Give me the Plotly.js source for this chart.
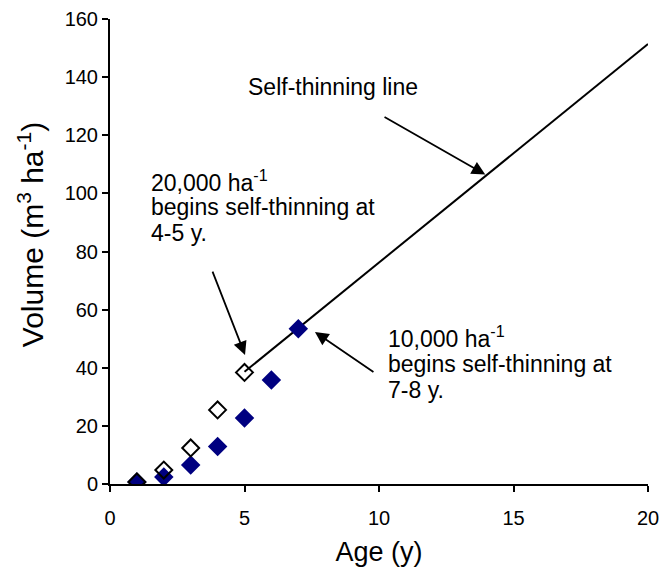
<!DOCTYPE html>
<html>
<head>
<meta charset="utf-8">
<script src="https://cdn.plot.ly/plotly-3.0.1.min.js"></script>
<style>html,body{margin:0;padding:0;background:#fff;}#chart{width:665px;height:574px;}</style>
</head>
<body>
<div id="chart"></div>
<script>
// Data
const age10k = [1, 2, 3, 4, 5, 6, 7];
const vol10k = [0.7, 2.4, 6.5, 12.9, 22.7, 35.8, 53.4];
const age20k = [1, 2, 3, 4, 5];
const vol20k = [0.7, 4.8, 12.4, 25.5, 38.4];
const selfThinAge = [5, 20];
const selfThinVol = [38.6, 151.4];
const xTicks = [0, 5, 10, 15, 20];
const yTicks = [0, 20, 40, 60, 80, 100, 120, 140, 160];

const FONT = 'Liberation Sans, Arial, sans-serif';

const traces = [
  {
    x: selfThinAge, y: selfThinVol, mode: 'lines', type: 'scatter',
    line: {color: '#000000', width: 2}, hoverinfo: 'skip', showlegend: false
  },
  {
    x: age10k, y: vol10k, mode: 'markers', type: 'scatter',
    marker: {symbol: 'diamond', size: 15, color: '#000080', line: {width: 0}},
    showlegend: false
  },
  {
    x: age20k, y: vol20k, mode: 'markers', type: 'scatter',
    marker: {symbol: 'diamond-open', size: 13, color: '#000000', line: {width: 2, color: '#000000'}},
    showlegend: false
  }
];

function textLine(txt, x, y, anchor) {
  return {text: txt, x: x, y: y, xref: 'x', yref: 'y', showarrow: false,
    xanchor: anchor || 'left', yanchor: 'middle', font: {family: FONT, size: 23, color: '#000'}};
}
function arrow(x, y, ax, ay) {
  return {text: '', x: x, y: y, ax: ax, ay: ay, xref: 'x', yref: 'y', axref: 'x', ayref: 'y',
    showarrow: true, arrowhead: 2, arrowsize: 1.5, arrowwidth: 1.8, arrowcolor: '#000', standoff: 0};
}

const annotations = [
  textLine('Self-thinning line', 8.29, 136.6, 'center'),
  textLine('20,000 ha<sup>-1</sup>', 1.45, 104.3),
  textLine('begins self-thinning at', 1.45, 95.3),
  textLine('4-5 y.', 1.45, 86.5),
  textLine('10,000 ha<sup>-1</sup>', 10.25, 50.6),
  textLine('begins self-thinning at', 10.25, 41.3),
  textLine('7-8 y.', 10.25, 32.4),
  arrow(13.95, 106.5, 10.15, 126.6),
  arrow(5.02, 44.4, 3.79, 73.6),
  arrow(7.62, 52.3, 9.85, 38.2),
  {text: 'Volume (m<sup>3</sup> ha<sup>-1</sup>)', xref: 'paper', yref: 'paper', x: 0, xshift: -79,
    y: 0.535, xanchor: 'center', yanchor: 'middle', textangle: -90, showarrow: false,
    font: {family: FONT, size: 30, color: '#000'}}
];

const axisCommon = {
  showgrid: false, zeroline: false, showline: true, linecolor: '#000', linewidth: 2,
  ticks: 'outside', ticklen: 6, tickwidth: 2, tickcolor: '#000', mirror: false,
  tickfont: {family: FONT, size: 20, color: '#000'}
};

const layout = {
  width: 665, height: 574,
  margin: {l: 110, r: 17, t: 19, b: 90},
  paper_bgcolor: '#fff', plot_bgcolor: '#fff',
  showlegend: false,
  font: {family: FONT, color: '#000'},
  xaxis: Object.assign({}, axisCommon, {
    range: [0, 20], tickvals: xTicks, ticktext: xTicks.map(String), ticklabelstandoff: 9,
    title: {text: 'Age (y)', font: {family: FONT, size: 27, color: '#000'}, standoff: 14}
  }),
  yaxis: Object.assign({}, axisCommon, {
    range: [0, 160], tickvals: yTicks, ticktext: yTicks.map(String)
  }),
  annotations: annotations
};

Plotly.newPlot('chart', traces, layout, {staticPlot: true, displayModeBar: false});
</script>
</body>
</html>
